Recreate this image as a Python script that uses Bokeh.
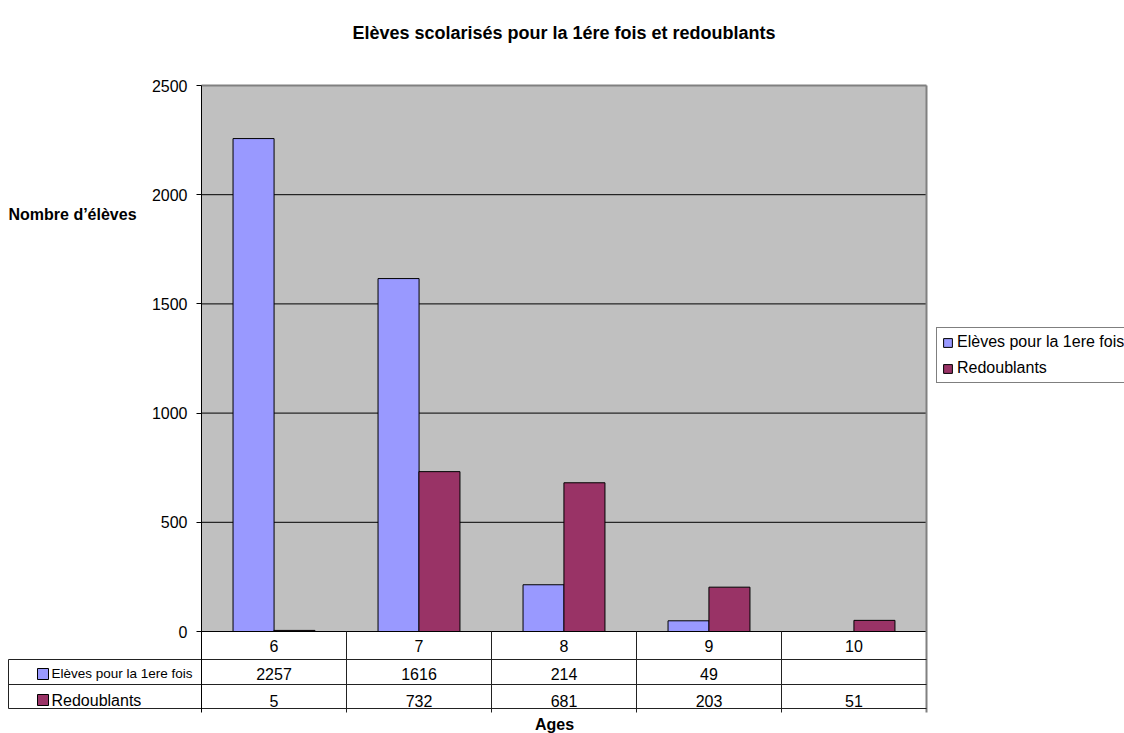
import numpy as np
from bokeh.plotting import figure
from bokeh.models import (Range1d, FixedTicker, ColumnDataSource, Legend, LegendItem)
from bokeh.transform import dodge
from bokeh.core.properties import value
from bokeh.embed import file_html
from bokeh.resources import INLINE

# ---------------- data ----------------
title = "Elèves scolarisés pour la 1ére fois et redoublants"
ages = ["6", "7", "8", "9", "10"]
series_names = ["Elèves pour la 1ere fois", "Redoublants"]
first_time = [2257, 1616, 214, 49, None]
repeaters = [5, 732, 681, 203, 51]
y_ticks = [0, 500, 1000, 1500, 2000, 2500]
y_label = "Nombre d\u2019élèves"
x_label = "Ages"

colors = ["#9999FF", "#993366"]
FONT = "Liberation Sans"

# ---------------- layout helpers (canvas px -> data) ----------------
W, H = 1124, 733
PLOT_LEFT = 201
CAT_PX = 145.0
Y0_PX = 631.0
Y_PER_PX = y_ticks[-1] / 546.0


def xd(px):
    return -0.5 + (px - PLOT_LEFT) / CAT_PX


def yd(py):
    return (Y0_PX - py) * Y_PER_PX


n = len(ages)
idx = np.arange(n)

p = figure(width=W, height=H, output_backend="svg", toolbar_location=None,
           x_range=Range1d(xd(0), xd(W)), y_range=Range1d(yd(H), yd(0)),
           x_axis_location=None,
           min_border_left=0, min_border_right=0, min_border_top=0, min_border_bottom=0)
p.outline_line_color = None
p.background_fill_color = "white"
p.border_fill_color = "white"
p.grid.visible = False

# plot area background
p.quad(left=-0.5, right=n - 0.5, bottom=0, top=y_ticks[-1],
       fill_color="#C0C0C0", line_color=None)

# gridlines (incl. 0 line = table top)
p.segment(x0=[-0.5] * (len(y_ticks) - 1), x1=[n - 0.5] * (len(y_ticks) - 1),
          y0=y_ticks[:-1], y1=y_ticks[:-1], line_color="black", line_width=1)

# bars
src = ColumnDataSource(dict(
    x=idx,
    first=np.array([np.nan if v is None else v for v in first_time], dtype=float),
    rep=np.array(repeaters, dtype=float),
))
r1 = p.vbar(x=dodge("x", -0.141), top="first", width=0.283, source=src,
            fill_color=colors[0], line_color="black", line_width=1)
r2 = p.vbar(x=dodge("x", 0.141), top="rep", width=0.283, source=src,
            fill_color=colors[1], line_color="black", line_width=1)

# plot area border (top / right)
p.segment(x0=[-0.5], x1=[n - 0.5], y0=[y_ticks[-1]], y1=[y_ticks[-1]],
          line_color="#808080", line_width=2)
p.segment(x0=[n - 0.5], x1=[n - 0.5], y0=[yd(712)], y1=[y_ticks[-1]],
          line_color="#808080", line_width=2)

# data table grid
row_lines = [yd(659), yd(684), yd(708)]
p.segment(x0=[xd(8)] * 3, x1=[n - 0.5] * 3, y0=row_lines, y1=row_lines,
          line_color="#222222", line_width=1)
p.segment(x0=[xd(8)], x1=[xd(8)], y0=[yd(659)], y1=[yd(708)],
          line_color="#222222", line_width=1)
inner_x = list(idx[:-1] + 0.5)
p.segment(x0=inner_x, x1=inner_x, y0=[0] * len(inner_x), y1=[yd(712)] * len(inner_x),
          line_color="#222222", line_width=1)

# data table texts
p.text(x=idx, y=[yd(645)] * n, text=ages, text_align="center", text_baseline="middle",
       text_font=value(FONT), text_font_size="16px", text_color="black")
p.text(x=idx, y=[yd(673)] * n, text=["" if v is None else str(v) for v in first_time],
       text_align="center", text_baseline="middle",
       text_font=value(FONT), text_font_size="16px", text_color="black")
p.text(x=idx, y=[yd(700)] * n, text=[str(v) for v in repeaters],
       text_align="center", text_baseline="middle",
       text_font=value(FONT), text_font_size="16px", text_color="black")

# table legend keys
p.quad(left=[xd(37)] * 2, right=[xd(48)] * 2, top=[yd(668), yd(694)],
       bottom=[yd(679), yd(705)], fill_color=colors, line_color="black", line_width=1)
p.text(x=[xd(51)], y=[yd(673)], text=[series_names[0]], text_baseline="middle",
       text_font=value(FONT), text_font_size="13.5px", text_color="black")
p.text(x=[xd(51)], y=[yd(700)], text=[series_names[1]], text_baseline="middle",
       text_font=value(FONT), text_font_size="16px", text_color="black")

# y axis, drawn at the left edge of the plot area
ax = p.yaxis[0]
ax.fixed_location = -0.5
ax.ticker = FixedTicker(ticks=y_ticks)
ax.bounds = (yd(712), y_ticks[-1])
ax.axis_line_color = "black"
ax.major_tick_line_color = "black"
ax.major_tick_out = 5
ax.major_tick_in = 0
ax.minor_tick_line_color = None
ax.major_label_standoff = 9
ax.major_label_text_font = FONT
ax.major_label_text_font_size = "16px"
ax.major_label_text_color = "black"

# titles
p.text(x=[xd(563.5)], y=[yd(32)], text=[title], text_align="center", text_baseline="middle",
       text_font=value(FONT), text_font_size="18px", text_font_style="bold",
       text_color="black")
p.text(x=[xd(8)], y=[yd(214)], text=[y_label], text_align="left", text_baseline="middle",
       text_font=value(FONT), text_font_size="16px", text_font_style="bold",
       text_color="black")
p.text(x=[xd(554)], y=[yd(724)], text=[x_label], text_align="center", text_baseline="middle",
       text_font=value(FONT), text_font_size="16px", text_font_style="bold",
       text_color="black")

# legend
legend = Legend(items=[LegendItem(label=series_names[0], renderers=[r1]),
                       LegendItem(label=series_names[1], renderers=[r2])],
                location=(936, H - 383),
                border_line_color="black", border_line_width=1,
                background_fill_color="white", background_fill_alpha=1,
                padding=5, spacing=8, margin=0, label_height=16,
                glyph_height=11, glyph_width=11, label_standoff=4,
                label_text_font=FONT, label_text_font_size="16px",
                label_text_color="black")
p.add_layout(legend)

open("out.html", "w").write(file_html(p, INLINE))
